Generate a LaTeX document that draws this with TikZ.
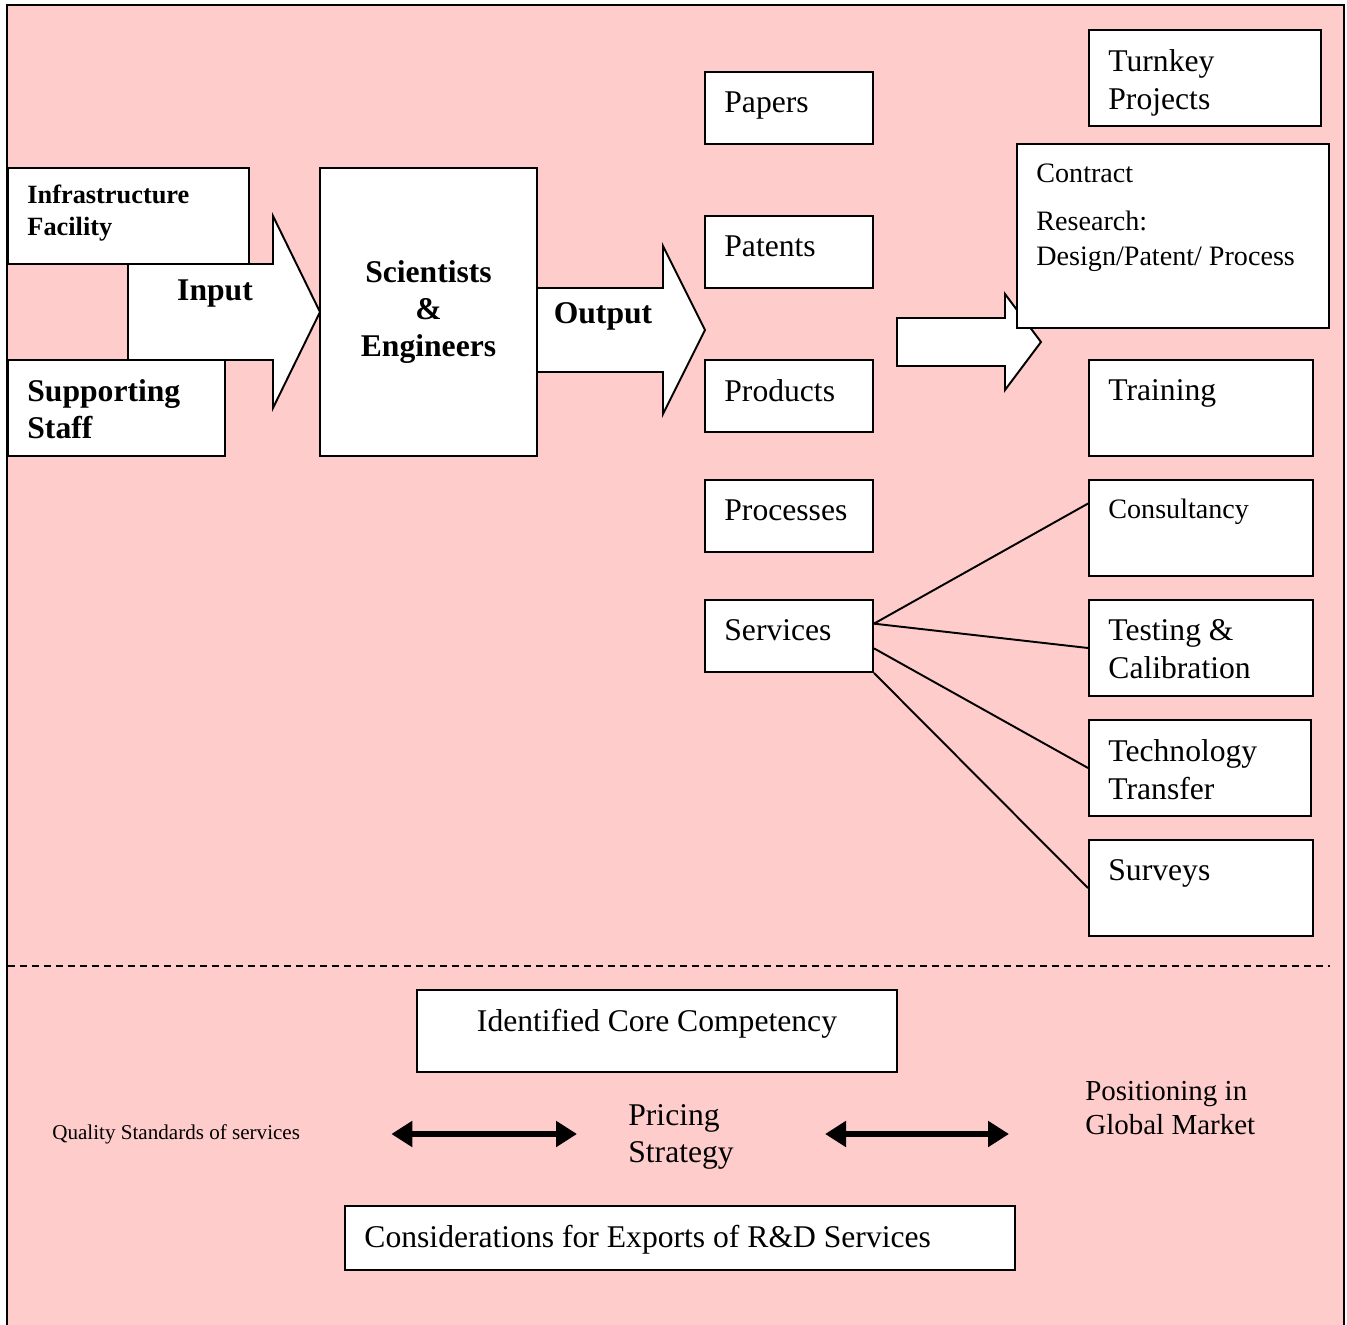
\documentclass[tikz,border=0pt]{standalone}
\usepackage{fontspec}
\setmainfont{Liberation Serif}
\usepackage{xcolor}
\usetikzlibrary{arrows.meta, calc}

\definecolor{bgpink}{HTML}{FFCCCC}

\begin{document}
\begin{tikzpicture}[
    x=0.02cm, y=-0.02cm,
    font=\fontsize{18}{21.5}\selectfont,
    box/.style={draw, fill=white, line width=1.1pt, inner sep=0pt},
    tl/.style={anchor=north west, inner sep=0pt, xshift=0.4cm, yshift=-0.4cm, align=left},
    bigbold/.style={font=\fontsize{18}{21.3}\selectfont\bfseries},
    midtext/.style={font=\fontsize{16}{20.4}\selectfont},
    blockarr/.style={draw, fill=white, line width=1.1pt},
    dbl/.style={{Triangle[length=0.42cm,width=0.5cm]}-{Triangle[length=0.42cm,width=0.5cm]}, line width=0.13cm},
    divider/.style={line width=0.9pt, dash pattern=on 0.14cm off 0.1cm}
]
\useasboundingbox (0,0) rectangle (1347,1325);

% Frame
\fill[bgpink] (7,5) rectangle (1344,1325);
\draw[line width=1.5pt] (7,1325) -- (7,5) -- (1344,5) -- (1344,1325);

% Input arrow
\draw[blockarr] (128,264) -- (273,264) -- (273,216) -- (320,312) -- (273,408) -- (273,360) -- (128,360) -- cycle;
\node[bigbold] (input) at (215,294) {Input};

% Infrastructure
\node[box, minimum width=4.82cm, minimum height=1.92cm,
      label={[tl, yshift=0.04cm, font=\fontsize{15}{18.1}\selectfont\bfseries]north west:Infrastructure\\Facility}] (infra) at (128.5,216) {};

% Supporting staff
\node[box, minimum width=4.34cm, minimum height=1.92cm,
      label={[tl, bigbold]north west:Supporting\\Staff}] (staff) at (116.5,408) {};

% Scientists
\node[box, minimum width=4.34cm, minimum height=5.76cm, align=center, bigbold] (sci) at (428.5,312) {Scientists\\\&\\Engineers};

% Output arrow
\draw[blockarr] (537,288) -- (663,288) -- (663,246) -- (705,330) -- (663,414) -- (663,372) -- (537,372) -- cycle;
\node[bigbold] (output) at (603,316) {Output};

% Outputs
\node[box, minimum width=3.36cm, minimum height=1.44cm, label={[tl]north west:Papers}] (papers) at (789,108) {};
\node[box, minimum width=3.36cm, minimum height=1.44cm, label={[tl]north west:Patents}] (patents) at (789,252) {};
\node[box, minimum width=3.36cm, minimum height=1.44cm, label={[tl]north west:Products}] (products) at (789,396) {};
\node[box, minimum width=3.36cm, minimum height=1.44cm, label={[tl]north west:Processes}] (processes) at (789,516) {};
\node[box, minimum width=3.36cm, minimum height=1.44cm, label={[tl]north west:Services}] (services) at (789,636) {};

% Arrow to contract research
\draw[blockarr] (897,318) -- (1005,318) -- (1005,294) -- (1041,342) -- (1005,390) -- (1005,366) -- (897,366) -- cycle;

% Right column
\node[box, minimum width=4.64cm, minimum height=1.92cm, label={[tl]north west:Turnkey\\Projects}] (turnkey) at (1205,78) {};
\node[box, minimum width=6.24cm, minimum height=3.68cm,
      label={[tl, midtext]north west:{Contract\\[7pt]Research:\\Design/Patent/ Process}}] (contract) at (1173,236) {};
\node[box, minimum width=4.48cm, minimum height=1.92cm, label={[tl]north west:Training}] (training) at (1201,408) {};
\node[box, minimum width=4.48cm, minimum height=1.92cm, label={[tl, midtext]north west:Consultancy}] (consult) at (1201,528) {};
\node[box, minimum width=4.48cm, minimum height=1.92cm, label={[tl]north west:Testing \&\\Calibration}] (testing) at (1201,648) {};
\node[box, minimum width=4.44cm, minimum height=1.92cm, label={[tl]north west:Technology\\Transfer}] (transfer) at (1200,768) {};
\node[box, minimum width=4.48cm, minimum height=1.92cm, label={[tl]north west:Surveys}] (surveys) at (1201,888) {};

% Services links
\draw[line width=1.1pt] ($(services.north east)!0.333!(services.south east)$) -- ($(consult.north west)!0.25!(consult.south west)$);
\draw[line width=1.1pt] ($(services.north east)!0.333!(services.south east)$) -- (testing.west);
\draw[line width=1.1pt] ($(services.north east)!0.667!(services.south east)$) -- (transfer.west);
\draw[line width=1.1pt] (services.south east) -- (surveys.west);

% Divider
\draw[divider] (8,966) -- (1330,966);

% Export considerations
\node[box, minimum width=9.6cm, minimum height=1.64cm,
      label={[anchor=north, inner sep=0pt, yshift=-0.4cm]north:Identified Core Competency}] (core) at (657,1031) {};
\node[anchor=west, inner sep=0pt, font=\fontsize{12}{14}\selectfont] (quality) at (52,1134) {Quality Standards of services};
\node[anchor=west, inner sep=0pt, align=left, font=\fontsize{18}{21.5}\selectfont] (pricing) at (628,1137) {Pricing\\Strategy};
\node[anchor=west, inner sep=0pt, align=left, font=\fontsize{16.5}{19.3}\selectfont] (market) at (1085,1108) {Positioning in\\Global Market};
\draw[dbl, shorten <=1.82cm, shorten >=1.02cm] (quality.east) -- (quality.east -| pricing.west);
\draw[dbl, shorten <=1.82cm, shorten >=1.52cm] (quality.east -| pricing.east) -- (quality.east -| market.west);
\node[box, minimum width=13.4cm, minimum height=1.28cm,
      label={[tl]north west:Considerations for Exports of R\&D Services}] (exports) at (680,1238) {};

\end{tikzpicture}
\end{document}
